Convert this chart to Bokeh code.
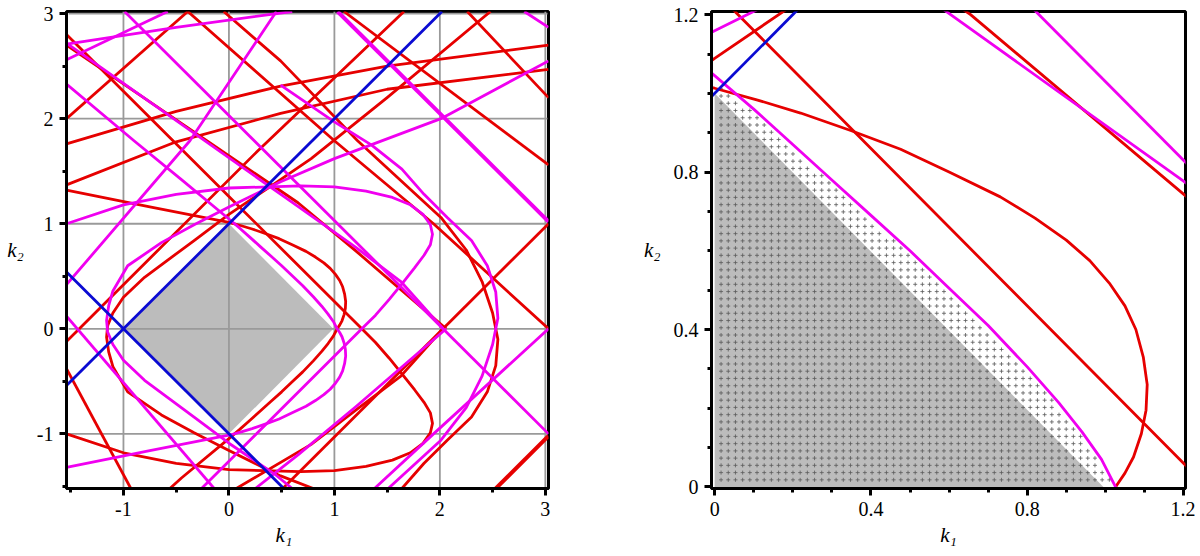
import numpy as np
from bokeh.plotting import figure
from bokeh.layouts import row
from bokeh.models import Range1d, FixedTicker
from bokeh.embed import file_html
from bokeh.resources import INLINE

# ---------------- ticks ----------------
L_TICKS = [-1, 0, 1, 2, 3]
L_TICK_LABELS = ["-1", "0", "1", "2", "3"]
L_MINOR = [-1.5, -0.5, 0.5, 1.5, 2.5]
R_TICKS = [0, 0.4, 0.8, 1.2]
R_TICK_LABELS = ["0", "0.4", "0.8", "1.2"]
R_MINOR = [0.1, 0.2, 0.3, 0.5, 0.6, 0.7, 0.9, 1.0, 1.1]
X_LABEL = "k\u2081"
Y_LABEL = "k\u2082"

# ---------------- shaded region ----------------
DIAMOND_X = [-1.0, 0.0, 0.99, 0.0]
DIAMOND_Y = [0.0, 1.0, 0.0, -1.0]
TRI_X = [0.0, 0.0, 0.995]
TRI_Y = [0.0, 1.0, 0.0]

# ---------------- blue lines ----------------
BLUE_A = [(-1.54, -0.54), (2.02, 3.02)]
BLUE_B = [(-1.54, 0.54), (0.52, -1.52)]

# ---------------- red curves ----------------
RED_1 = [(-1.54, 1.32), (-0.75, 1.16), (0.0, 1.013), (0.11, 0.983), (0.22, 0.95), (0.35, 0.905), (0.476, 0.858),
         (0.6, 0.80), (0.731, 0.737), (0.82, 0.683), (0.9, 0.627), (0.96, 0.575), (1.01, 0.518), (1.05, 0.46),
         (1.078, 0.40), (1.097, 0.33), (1.107, 0.26), (1.104, 0.195), (1.092, 0.135), (1.072, 0.076),
         (1.05, 0.035), (1.026, 0.0), (0.99, -0.07), (0.94, -0.14), (0.88, -0.215), (0.8, -0.305), (0.7, -0.41),
         (0.6, -0.505), (0.5, -0.6), (0.4, -0.69), (0.3, -0.78), (0.2, -0.87), (0.1, -0.96), (0.0, -1.045),
         (-0.45, -1.42), (-0.56, -1.52)]
RED_2 = [(-1.54, -1.0), (-1.0, -1.18), (-0.5, -1.28), (0.0, -1.34), (0.68, -1.36), (1.0, -1.35), (1.3, -1.31),
         (1.55, -1.25), (1.72, -1.18), (1.84, -1.09), (1.91, -0.99), (1.93, -0.9), (1.91, -0.8), (1.85, -0.7),
         (1.76, -0.58), (1.65, -0.44), (1.52, -0.28), (1.39, -0.13), (1.26, 0.0), (0.05, 1.21), (-1.54, 2.8)]
RED_C = [(2.48, 3.02), (1.5, 2.2), (0.78, 1.62), (0.43, 1.38), (0.0, 1.089), (-0.33, 0.84), (-0.8, 0.49),
         (-1.0, 0.3), (-1.1, 0.15), (-1.15, 0.03), (-1.16, -0.08), (-1.14, -0.22), (-1.1, -0.36), (-0.96, -0.6),
         (-0.64, -0.82), (-0.33, -0.99), (0.0, -1.159), (0.49, -1.40), (0.8, -1.52)]
RED_BIG = [(-0.05, 3.02), (0.49, 2.55), (1.22, 1.79), (2.01, 1.06), (2.25, 0.75), (2.4, 0.45), (2.5, 0.15),
           (2.55, -0.1), (2.53, -0.35), (2.45, -0.6), (2.3, -0.84), (2.07, -1.06), (1.85, -1.28), (1.64, -1.52)]
RED_LC = [(-0.39, 3.02), (1.0, 1.79), (1.94, 1.0), (3.03, 0.0)]
RED_LM = [(0.51, -1.52), (3.03, 1.0)]
RED_LK = [(-1.54, 2.7), (0.655, 1.2), (1.2, 0.744), (2.06, 0.0)]
RED_LA = [(2.03, 0.0), (1.63, -0.45), (1.2, -0.777), (0.78, -1.1), (0.07, -1.52)]
RED_LX = [(-1.54, -0.12), (0.27, 1.69), (1.66, 3.02)]
RED_T1 = [(-1.54, 1.76), (-0.5, 2.07), (0.49, 2.31), (1.5, 2.5), (3.03, 2.70)]
RED_T2 = [(-1.54, 1.37), (-0.5, 1.78), (0.49, 2.05), (1.5, 2.28), (3.03, 2.47)]
RED_T3 = [(-1.54, 2.0), (-0.39, 3.02)]
RED_T4 = [(1.09, 3.02), (3.03, 1.56)]
RED_T5 = [(2.26, 3.02), (3.03, 2.2)]
RED_B1 = [(-1.54, -0.38), (-0.93, -1.52)]
RED_THICK = [(2.53, -1.52), (3.03, -1.02)]

# ---------------- magenta curves ----------------
MAG_1 = [(-1.54, 2.33), (-0.9, 1.79), (-0.45, 1.42), (0.0, 1.045), (0.1, 0.96), (0.2, 0.87), (0.3, 0.78),
         (0.4, 0.69), (0.5, 0.6), (0.6, 0.505), (0.7, 0.41), (0.8, 0.305), (0.88, 0.215), (0.94, 0.14),
         (0.99, 0.07), (1.026, 0.0), (1.05, -0.035), (1.072, -0.076), (1.092, -0.135), (1.104, -0.195),
         (1.107, -0.26), (1.097, -0.33), (1.078, -0.40), (1.05, -0.46), (1.01, -0.518), (0.96, -0.575),
         (0.9, -0.627), (0.82, -0.683), (0.731, -0.737), (0.6, -0.80), (0.476, -0.858), (0.35, -0.905),
         (0.22, -0.95), (0.11, -0.983), (0.0, -1.013), (-0.75, -1.16), (-1.54, -1.32)]
MAG_2 = [(-1.54, 1.0), (-1.0, 1.18), (-0.5, 1.28), (0.0, 1.34), (0.68, 1.36), (1.0, 1.35), (1.3, 1.31),
         (1.55, 1.25), (1.72, 1.18), (1.84, 1.09), (1.91, 0.99), (1.93, 0.9), (1.91, 0.8), (1.85, 0.7),
         (1.76, 0.58), (1.65, 0.44), (1.52, 0.28), (1.39, 0.13), (1.26, 0.0), (0.0, -1.26), (-0.26, -1.52)]
MAG_C = [(3.03, 2.55), (2.01, 2.0), (1.0, 1.62), (0.49, 1.40), (0.0, 1.159), (-0.33, 0.99), (-0.64, 0.82),
         (-0.96, 0.6), (-1.1, 0.36), (-1.14, 0.22), (-1.16, 0.08), (-1.15, -0.03), (-1.1, -0.15), (-1.0, -0.3),
         (-0.8, -0.49), (-0.33, -0.84), (0.0, -1.089), (0.43, -1.38), (0.6, -1.52)]
MAG_BIG = [(0.49, 2.32), (1.0, 1.97), (1.35, 1.75), (1.64, 1.52), (1.85, 1.28), (2.07, 1.06), (2.3, 0.84),
           (2.45, 0.6), (2.53, 0.35), (2.55, 0.1), (2.5, -0.15), (2.4, -0.45), (2.25, -0.75), (2.01, -1.06),
           (1.51, -1.52)]
MAG_LC = [(1.38, -1.52), (1.94, -1.0), (3.03, 0.0)]
MAG_LM = [(-0.99, 3.02), (3.03, -1.0)]
MAG_LA = [(-1.54, 2.72), (0.604, 1.2), (1.2, 0.777), (1.63, 0.45), (2.03, 0.0)]
MAG_LK = [(2.06, 0.0), (1.2, -0.744), (0.655, -1.2), (0.25, -1.52)]
MAG_LX = [(-1.54, 0.12), (-0.14, -1.52)]
MAG_U1 = [(-1.54, 0.42), (-0.37, 1.79), (0.45, 3.02)]
MAG_T1 = [(-1.54, 2.71), (-0.5, 2.87), (0.6, 3.02)]
MAG_T2 = [(-1.54, 2.56), (-0.58, 3.02)]
MAG_T4 = [(2.8, 3.02), (3.03, 2.87)]
MAG_THICK = [(1.03, 3.02), (3.03, 1.02)]

RED = "#e60000"
MAGENTA = "#f000f0"
BLUE = "#0a0ad2"
GRAY = "#bcbcbc"

RED_SET = [RED_1, RED_2, RED_C, RED_BIG, RED_LC, RED_LM, RED_LK, RED_LA, RED_LX, RED_T1, RED_T2, RED_T3,
           RED_T4, RED_T5, RED_B1]
MAG_SET = [MAG_1, MAG_2, MAG_C, MAG_BIG, MAG_LC, MAG_LM, MAG_LA, MAG_LK, MAG_LX, MAG_U1, MAG_T1, MAG_T2,
           MAG_T4]

FONT = "Liberation Serif"
LW = 2.8


def style_axes(p, ticks, minor, labels, xlabel):
    for ax in (p.xaxis[0], p.yaxis[0]):
        ax.ticker = FixedTicker(ticks=ticks, minor_ticks=minor)
        ax.major_label_overrides = {t: s for t, s in zip(ticks, labels)}
        ax.axis_line_width = 3
        ax.axis_line_color = "black"
        ax.major_tick_line_width = 3
        ax.major_tick_out = 7
        ax.major_tick_in = 0
        ax.minor_tick_line_width = 3
        ax.minor_tick_out = 4
        ax.minor_tick_in = 0
        ax.major_label_text_font = FONT
        ax.major_label_text_font_size = "20px"
        ax.major_label_text_color = "black"
        ax.major_label_standoff = 6
        ax.axis_label_text_font = FONT
        ax.axis_label_text_font_size = "21px"
        ax.axis_label_text_font_style = "italic"
        ax.axis_label_text_color = "black"
    p.xaxis[0].axis_label = xlabel
    p.xaxis[0].axis_label_standoff = 4
    p.yaxis[0].axis_label = Y_LABEL
    p.yaxis[0].axis_label_standoff = 10
    if "axis_label_orientation" in p.yaxis[0].properties():
        p.yaxis[0].axis_label_orientation = "horizontal"
    p.grid.visible = False
    p.outline_line_color = "black"
    p.outline_line_width = 3
    p.background_fill_color = "white"
    p.border_fill_color = "white"


def draw_curves(p):
    for c in RED_SET:
        p.line([q[0] for q in c], [q[1] for q in c], line_color=RED, line_width=LW, line_join="round")
    for c in MAG_SET:
        p.line([q[0] for q in c], [q[1] for q in c], line_color=MAGENTA, line_width=LW, line_join="round")
    p.line([q[0] for q in MAG_THICK], [q[1] for q in MAG_THICK], line_color=MAGENTA, line_width=4)
    p.line([q[0] for q in RED_THICK], [q[1] for q in RED_THICK], line_color=RED, line_width=4)
    for c in (BLUE_A, BLUE_B):
        p.line([q[0] for q in c], [q[1] for q in c], line_color=BLUE, line_width=LW)


# ---------------- left panel ----------------
p1 = figure(frame_width=482, frame_height=477, x_range=Range1d(-1.54, 3.03), y_range=Range1d(-1.52, 3.02),
            output_backend="svg", toolbar_location=None,
            min_border_left=66, min_border_right=40, min_border_top=11, min_border_bottom=60)
# the left panel's k1 sits left of the axis centre in the reference: pad with no-break spaces
style_axes(p1, L_TICKS, L_MINOR, L_TICK_LABELS, X_LABEL + "\u00a0" * 9)
p1.patch(DIAMOND_X, DIAMOND_Y, fill_color=GRAY, line_color=None)
gx = [[t, t] for t in L_TICKS]
gy = [[-1.52, 3.02] for t in L_TICKS]
p1.multi_line(gx, gy, line_color="#9a9a9a", line_width=1.8)
p1.multi_line(gy, gx, line_color="#9a9a9a", line_width=1.8)
draw_curves(p1)

# ---------------- right panel ----------------
p2 = figure(frame_width=474, frame_height=477, x_range=Range1d(-0.008, 1.205), y_range=Range1d(-0.004, 1.208),
            output_backend="svg", toolbar_location=None,
            min_border_left=123, min_border_right=10, min_border_top=11, min_border_bottom=60)
style_axes(p2, R_TICKS, R_MINOR, R_TICK_LABELS, X_LABEL)
p2.patch(TRI_X, TRI_Y, fill_color=GRAY, line_color=None)
# dotted texture under the magenta boundary
bx = [q[0] for q in MAG_1[3:16]]
by = [q[1] for q in MAG_1[3:16]]
gxs, gys = np.meshgrid(np.arange(0.0165, 1.03, 0.0184), np.arange(0.018, 1.05, 0.0184))
gxs, gys = gxs.ravel(), gys.ravel()
keep = (gxs < bx[-1]) & (gys < np.interp(gxs, bx, by) - 0.012)
p2.scatter(gxs[keep], gys[keep], marker="cross", size=4, line_color="#5a5a5a", line_width=0.8)
draw_curves(p2)

layout = row(p1, p2)
open("out.html", "w").write(file_html(layout, INLINE))
